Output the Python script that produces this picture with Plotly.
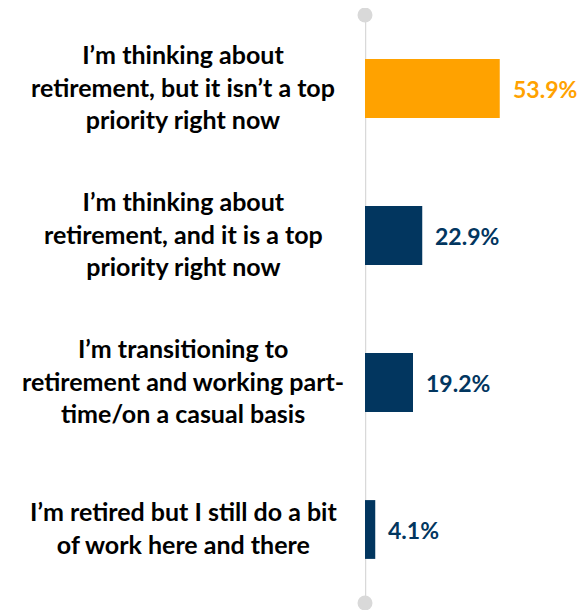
import plotly.graph_objects as go

categories = [
    "I’m thinking about<br>retirement, but it isn’t a top<br>priority right now",
    "I’m thinking about<br>retirement, and it is a top<br>priority right now",
    "I’m transitioning to<br>retirement and working part-<br>time/on a casual basis",
    "I’m retired but I still do a bit<br>of work here and there",
]
values = [53.9, 22.9, 19.2, 4.1]
bar_colors = ["#FFA200", "#02365F", "#02365F", "#02365F"]

_FONT = "Lato, 'Open Sans', sans-serif"
_AXIS_GREY = "#D9D9D9"

y_pos = list(range(len(values)))

fig = go.Figure()
fig.add_trace(
    go.Bar(
        x=values, y=y_pos, orientation="h", width=0.4,
        marker=dict(color=bar_colors, line_width=0),
        hoverinfo="skip", showlegend=False,
    )
)

# Grey axis line with round end caps.
fig.add_shape(type="line", xref="x", yref="y", x0=0, x1=0, y0=-0.5, y1=3.5,
              line=dict(color=_AXIS_GREY, width=2.5), layer="below")
fig.add_trace(
    go.Scatter(x=[0, 0], y=[-0.5, 3.5], mode="markers", cliponaxis=False,
               marker=dict(size=15, color=_AXIS_GREY), hoverinfo="skip",
               showlegend=False)
)

for y, v, c, lab in zip(y_pos, values, bar_colors, categories):
    fig.add_annotation(x=v, y=y, text=f"<b>{v:.1f}%</b>", showarrow=False,
                       xanchor="left", xshift=11,
                       font=dict(family=_FONT, size=23, color=c))
    fig.add_annotation(x=0, y=y, xref="x", text=f"<b>{lab}</b>", showarrow=False,
                       xanchor="center", xshift=-182, yshift=2, align="center",
                       font=dict(family=_FONT, size=25, color="#000000"))

# page body has an 8px margin, so the figure is shrunk and margins offset by it
fig.update_xaxes(range=[0, 88], visible=False, fixedrange=True)
fig.update_yaxes(range=[3.5, -0.5], visible=False, fixedrange=True)
fig.update_layout(
    width=577, height=602,
    margin=dict(l=357, r=0, t=7, b=7),
    plot_bgcolor="white", paper_bgcolor="white",
    bargap=0.6,
)

fig.write_html("out.html")
